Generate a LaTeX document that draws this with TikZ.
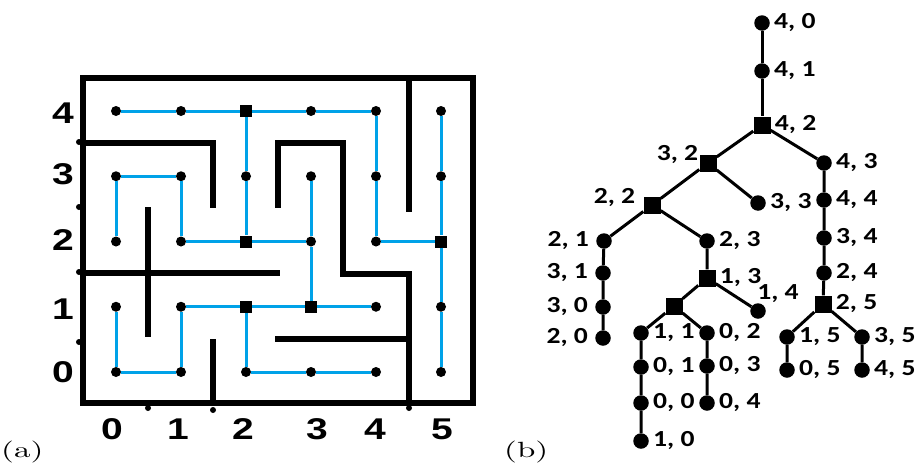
\documentclass[tikz,border=0pt]{standalone}
\usepackage{fontspec}
\newfontfamily\axfont{Liberation Sans}[FakeStretch=1.3,BoldFeatures={FakeStretch=1.3}]
\newfontfamily\tfont{Carlito}[FakeStretch=1.2,BoldFeatures={FakeStretch=1.2}]
\newfontfamily\capfont{lmroman10-regular}[Extension=.otf,FakeStretch=1.5]
\definecolor{mazeblue}{RGB}{0,162,232}
\begin{document}
\begin{tikzpicture}[x=1pt,y=-1pt,
  wall/.style={line width=5.8pt,line cap=rect,line join=miter},
  cyanline/.style={mazeblue,line width=3pt},
  tline/.style={black,line width=3pt},
  mdot/.style={circle,fill=black,inner sep=0pt,minimum size=10pt},
  msq/.style={rectangle,fill=black,inner sep=0pt,minimum size=12pt},
  tdot/.style={circle,fill=black,inner sep=0pt,minimum size=15.5pt},
  tsq/.style={rectangle,fill=black,inner sep=0pt,minimum size=17pt},
  lab/.style={font=\tfont\bfseries\fontsize{23}{23}\selectfont,inner sep=0pt},
  axis/.style={font=\axfont\bfseries\fontsize{30}{30}\selectfont,inner sep=0pt},
  captext/.style={font=\capfont\fontsize{22}{22}\selectfont,inner sep=0pt},
  rl/.style={label={[lab,label distance=4pt]0:{#1}}},
  ll/.style={label={[lab,label distance=7pt]180:{#1}}}]
\useasboundingbox (0,0) rectangle (917,463);

% ---------- (a) maze ----------
\draw[wall] (83,78) rectangle (473,403);
\draw[wall] (83,143) -- (213,143) -- (213,205);
\draw[wall] (148,210) -- (148,334);
\draw[wall] (83,273) -- (277,273);
\draw[wall] (213,342) -- (213,403);
\draw[wall] (278,205) -- (278,143) -- (343,143) -- (343,274) -- (409,274);
\draw[wall] (409,78) -- (409,209);
\draw[wall] (409,274) -- (409,403);
\draw[wall] (278,339) -- (409,339);
\foreach \p in {(79,142),(79,207),(79,272),(79,342),(148,408),(213,410),(409,408)}
  \fill \p circle (3pt);

\foreach \c/\r/\s in {0/4/mdot,1/4/mdot,2/4/msq,3/4/mdot,4/4/mdot,5/4/mdot,
  0/3/mdot,1/3/mdot,2/3/mdot,3/3/mdot,4/3/mdot,5/3/mdot,
  0/2/mdot,1/2/mdot,2/2/msq,3/2/mdot,4/2/mdot,5/2/msq,
  0/1/mdot,1/1/mdot,2/1/msq,3/1/msq,4/1/mdot,5/1/mdot,
  0/0/mdot,1/0/mdot,2/0/mdot,3/0/mdot,4/0/mdot,5/0/mdot}
  \node[\s] (m\c\r) at ({116+65*\c},{372-65.25*\r}) {};

\draw[cyanline] (m04) -- (m14) -- (m24) -- (m34) -- (m44) -- (m43) -- (m42) -- (m52);
\draw[cyanline] (m24) -- (m23) -- (m22);
\draw[cyanline] (m54) -- (m53) -- (m52) -- (m51) -- (m50);
\draw[cyanline] (m02) -- (m03) -- (m13) -- (m12) -- (m22) -- (m32);
\draw[cyanline] (m33) -- (m32) -- (m31);
\draw[cyanline] (m10) -- (m11) -- (m21) -- (m31) -- (m41);
\draw[cyanline] (m01) -- (m00) -- (m10);
\draw[cyanline] (m21) -- (m20) -- (m30) -- (m40);

\foreach \r/\y in {4/113,3/174,2/240,1/309,0/372}
  \node[axis] (ar\r) at (63,\y) {\r};
\foreach \c/\x in {0/112,1/178,2/243,3/317,4/375,5/442}
  \node[axis] (ac\c) at (\x,429) {\c};

\node[captext,anchor=base west] (capa) at (1,457) {(a)};
\node[captext,anchor=base west] (capb) at (504,457) {(b)};

% ---------- (b) tree ----------
\node[tdot,rl={4, 0}] (t40) at (762,23) {};
\node[tdot,rl={4, 1}] (t41) at (762,71) {};
\node[tsq,rl={4, 2}] (t42) at (762,125) {};
\node[tsq,label={[lab,label distance=1pt,yshift=8pt]180:{3, 2}}] (t32) at (708,163) {};
\node[tdot,rl={4, 3}] (t43) at (824,163) {};
\node[tsq,label={[lab,label distance=8pt,yshift=7pt]180:{2, 2}}] (t22) at (652,205) {};
\node[tdot,rl={3, 3}] (t33) at (758,203) {};
\node[tdot,rl={4, 4}] (t44) at (824,200) {};
\node[tdot,ll={2, 1}] (t21) at (604,241) {};
\node[tdot,rl={2, 3}] (t23) at (707,241) {};
\node[tdot,rl={3, 4}] (t34) at (824,238) {};
\node[tdot,ll={3, 1}] (t31) at (603,273) {};
\node[tsq,rl={1, 3}] (t13) at (707,278) {};
\node[tdot,rl={2, 4}] (t24) at (824,273) {};
\node[tdot,ll={3, 0}] (t30) at (603,307) {};
\node[tsq] (t12) at (674,306) {};
\node[tdot,label={[lab,label distance=0pt,xshift=20pt]90:{1, 4}}] (t14) at (758,311) {};
\node[tsq,rl={2, 5}] (t25) at (823,304) {};
\node[tdot,ll={2, 0}] (t20) at (603,338) {};
\node[tdot,rl={1, 1}] (t11) at (641,333) {};
\node[tdot,rl={0, 2}] (t02) at (707,333) {};
\node[tdot,rl={1, 5}] (t15) at (787,337) {};
\node[tdot,rl={3, 5}] (t35) at (862,337) {};
\node[tdot,rl={0, 1}] (t01) at (641,367) {};
\node[tdot,rl={0, 3}] (t03) at (707,366) {};
\node[tdot,rl={0, 5}] (t05) at (787,370) {};
\node[tdot,rl={4, 5}] (t45) at (862,370) {};
\node[tdot,rl={0, 0}] (t00) at (641,403) {};
\node[tdot,rl={0, 4}] (t04) at (707,403) {};
\node[tdot,rl={1, 0}] (t10) at (641,441) {};

\draw[tline] (t40) -- (t41) -- (t42);
\draw[tline] (t42) -- (t32);
\draw[tline] (t42) -- (t43) -- (t44) -- (t34) -- (t24) -- (t25);
\draw[tline] (t32) -- (t22);
\draw[tline] (t32) -- (t33);
\draw[tline] (t22) -- (t21) -- (t31) -- (t30) -- (t20);
\draw[tline] (t22) -- (t23) -- (t13);
\draw[tline] (t13) -- (t12);
\draw[tline] (t13) -- (t14);
\draw[tline] (t12) -- (t11) -- (t01) -- (t00) -- (t10);
\draw[tline] (t12) -- (t02) -- (t03) -- (t04);
\draw[tline] (t25) -- (t15) -- (t05);
\draw[tline] (t25) -- (t35) -- (t45);
\end{tikzpicture}
\end{document}
